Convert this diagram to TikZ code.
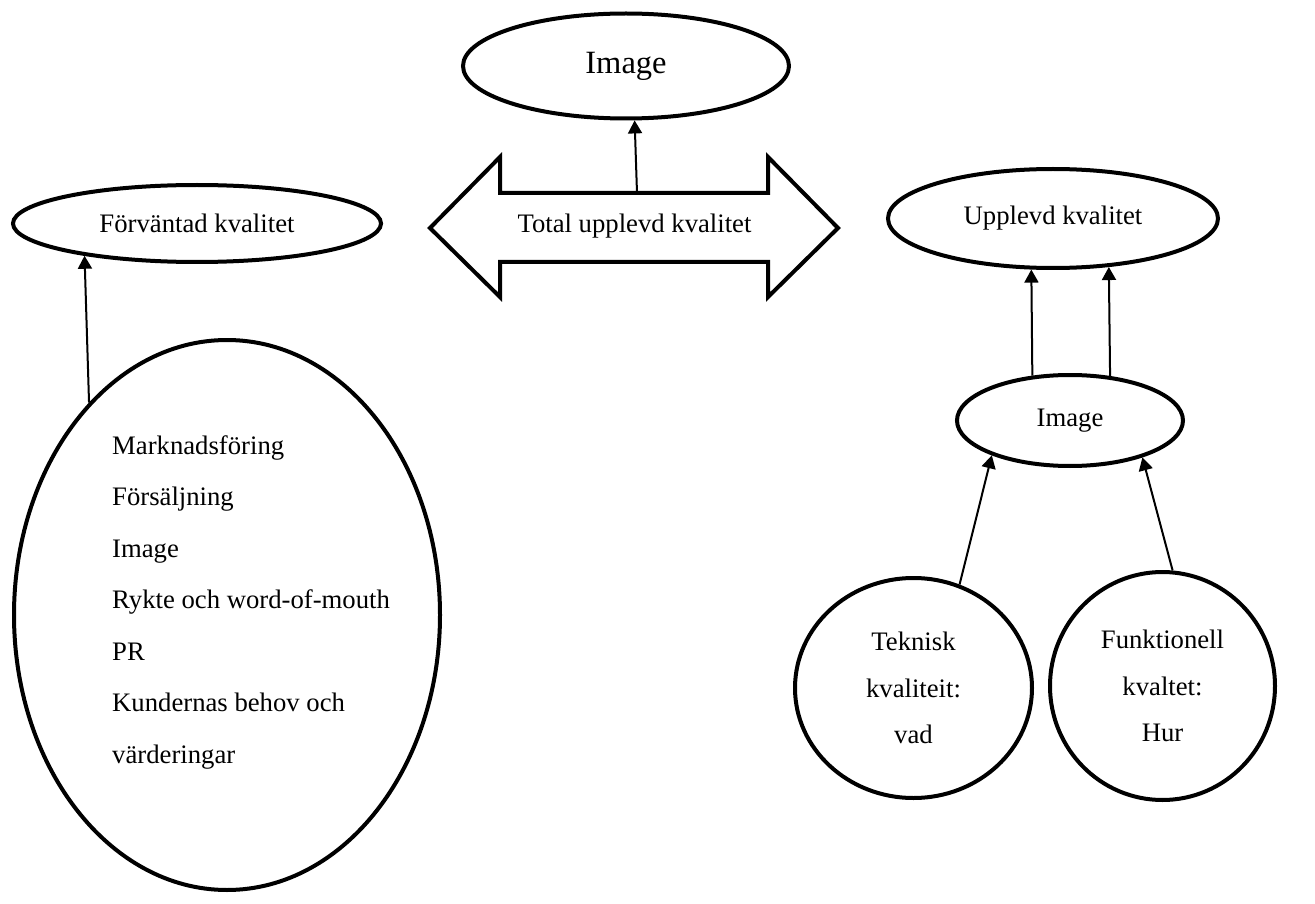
\documentclass[tikz,border=0pt]{standalone}
\usepackage{fontspec}
\setmainfont{Liberation Serif}
\usetikzlibrary{shapes.geometric,arrows.meta}
\begin{document}
\begin{tikzpicture}[x=1pt,y=-1pt,
  oval/.style={draw, ellipse, line width=4pt, inner sep=0pt, align=center,
    font=\fontsize{26.7}{32}\selectfont},
  roundtxt/.style={oval, font=\fontsize{26.7}{46.5}\selectfont},
  arr/.style={line width=2pt, -{Triangle[width=14pt,length=13pt]}},
  bigarrow/.style={draw, line width=4pt, line join=miter},
  plain/.style={inner sep=0pt, font=\fontsize{26.7}{32}\selectfont}]
\useasboundingbox (0,0) rectangle (1315,904);

% top image
\node[oval, minimum width=326pt, minimum height=105pt, font=\fontsize{32.5}{38}\selectfont] (img1) at (626,66) {Image};

% double arrow
\draw[bigarrow] (430,228) -- (500,157) -- (500,193) -- (768,193) -- (768,157)
  -- (838,228) -- (768,297) -- (768,262) -- (500,262) -- (500,297) -- cycle;
\node[plain] (total) at (634.5,226) {Total upplevd kvalitet};
\coordinate (shafttop) at (637,193);
\draw[arr] (shafttop) -- (img1.279.7);

% left side
\node[oval, minimum width=368pt, minimum height=77pt] (forv) at (197,223.5) {Förväntad kvalitet};
\node[oval, minimum width=426pt, minimum height=550pt] (fac) at (227,615) {};
\node[plain, anchor=west, align=left, font=\fontsize{26.7}{51.5}\selectfont] (factxt) at (112,602)
  {Marknadsföring\\Försäljning\\Image\\Rykte och word-of-mouth\\PR\\Kundernas behov och\\värderingar};
\draw[arr] (fac.123) -- (forv.196.3);

% right side
\node[oval, minimum width=330pt, minimum height=99pt] (upp) at (1053,218.5) {Upplevd kvalitet};
\node[oval, minimum width=226pt, minimum height=91pt] (img2) at (1070,420.5) {Image};
\node[roundtxt, minimum width=237pt, minimum height=220pt] (tek) at (913.5,688) {Teknisk\\kvaliteit:\\vad};
\node[roundtxt, minimum width=225pt, minimum height=228pt] (fun) at (1162.5,686) {Funktionell\\kvaltet:\\Hur};

\draw[arr] (img2.130.7) -- (upp.247.8);
\draw[arr] (img2.48.5) -- (upp.319.1);
\draw[arr] (tek.66.4) -- (img2.204.9);
\draw[arr] (fun.85.2) -- (img2.333);
\end{tikzpicture}
\end{document}
